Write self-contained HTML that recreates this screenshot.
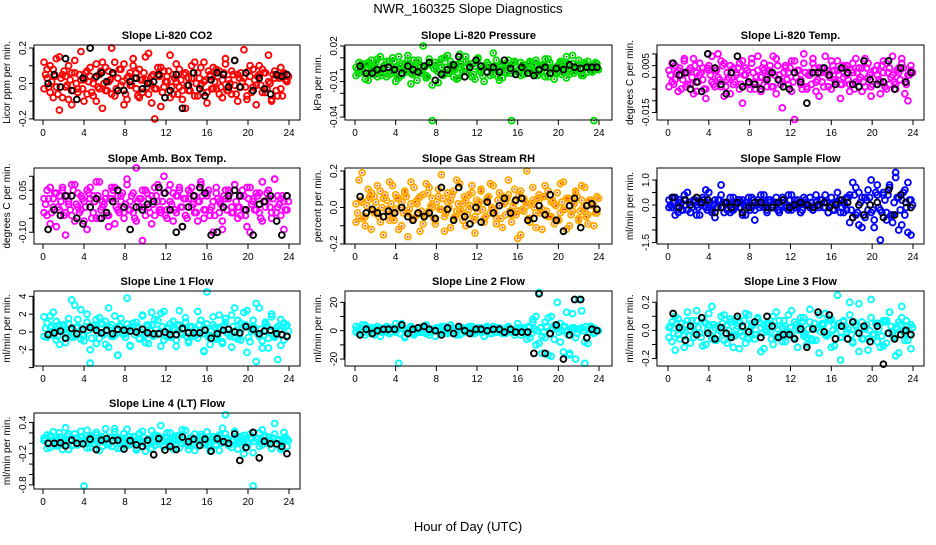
<!DOCTYPE html>
<html><head><meta charset="utf-8"><style>
html,body{margin:0;padding:0;background:#fff;}
svg text{font-family:"Liberation Sans",Arial,sans-serif;fill:#000;}
</style></head><body>
<svg id="chart" width="936" height="540" viewBox="0 0 936 540">
<text x="468" y="13" font-size="13" text-anchor="middle">NWR_160325  Slope Diagnostics</text>
<text x="468" y="531" font-size="13" text-anchor="middle">Hour of Day (UTC)</text>
</svg>
<script>
const hoursColor=[0.1,0.4,0.7,1.0,1.3,1.6,1.9,2.2,2.5,2.8,3.1,3.4,3.7,4.0,4.3,4.6,4.9,5.2,5.5,5.8,6.1,6.4,6.7,7.0,7.3,7.6,7.9,8.2,8.5,8.8,9.1,9.4,9.7,10.0,10.3,10.6,10.9,11.2,11.5,11.8,12.1,12.4,12.7,13.0,13.3,13.6,13.9,14.2,14.5,14.8,15.1,15.4,15.7,16.0,16.3,16.6,16.9,17.2,17.5,17.8,18.1,18.4,18.7,19.0,19.3,19.6,19.9,20.2,20.5,20.8,21.1,21.4,21.7,22.0,22.3,22.6,22.9,23.2,23.5,23.8];
const hoursColor2=[0.25,0.55,0.85,1.15,1.45,1.75,2.05,2.35,2.65,2.95,3.25,3.55,3.85,4.15,4.45,4.75,5.05,5.35,5.65,5.95,6.25,6.55,6.85,7.15,7.45,7.75,8.05,8.35,8.65,8.95,9.25,9.55,9.85,10.15,10.45,10.75,11.05,11.35,11.65,11.95,12.25,12.55,12.85,13.15,13.45,13.75,14.05,14.35,14.65,14.95,15.25,15.55,15.85,16.15,16.45,16.75,17.05,17.35,17.65,17.95,18.25,18.55,18.85,19.15,19.45,19.75,20.05,20.35,20.65,20.95,21.25,21.55,21.85,22.15,22.45,22.75,23.05,23.35,23.65,23.95];
const hoursBlack=[0.5,1.1,1.7,2.2,2.8,3.3,3.9,4.6,5.2,5.7,6.2,6.8,7.3,7.9,8.5,9.1,9.7,10.2,10.8,11.3,11.9,12.4,13.0,13.6,14.2,14.7,15.3,15.8,16.4,17.0,17.6,18.1,18.7,19.2,19.8,20.5,21.1,21.6,22.2,22.8,23.3,23.8];
const xTicks=[0,4,8,12,16,20,24];

const co2A=[12,3,-5,8,-2,15,-8,4,10,-12,6,-3,18,2,-6,9,0,-10,5,12,-4,7,20,-7,3,-1,11,-9,6,14,-3,8,-5,2,17,-11,-20,5,9,-2,4,16,-6,1,8,-4,-14,3,10,-7,6,-1,12,-5,4,9,-3,7,-8,11,2,-6,13,5,-2,19,-9,4,8,-1,10,-5,6,16,-10,3,-7,9,5,2];
const co2B=[-3,8,10,-8,14,-15,5,-2,-9,6,13,-5,2,-10,7,4,-7,11,-3,-14,9,1,-6,12,-4,8,-12,3,-1,10,6,-8,2,15,-6,4,-3,9,-13,7,1,-8,5,11,-2,-9,6,-4,3,12,-7,9,1,-11,5,-3,8,-6,2,14,-4,7,-1,-10,6,3,-7,10,-2,-12,5,8,-5,1,-9,7,4,-3,6,1];
const co2C=[5,-2,1,4,-6,3,7,-1,2,-4,0,5,-3,6,1,-5,3,-2,7,0,-4,2,5,-3,8,1,-6,4,-1,3,-7,2,6,-2,0,5,-3,4,-5,1,7,-2,3,-6,2,5,-1,-4,6,0,3,-5,2,7,-3,1,4,-2,6,-4,0,5,-6,3,1,-2,7,-5,2,4,-1,6,-3,0,5,-4,3,-7,2,4];
const co2Black=[0,5,-2,14,-4,-9,3,20,4,6,1,6,-4,-4,1,3,-3,0,1,5,-8,-4,5,-14,-1,6,-3,-7,2,6,5,-2,13,-2,6,-4,3,-3,-6,5,4,5];

const presA=[2,-3,5,-8,6,1,-4,9,-2,3,-6,7,0,-10,11,-5,4,8,-12,2,6,-3,20,-7,5,-13,3,-2,9,-4,12,0,-6,4,13,-1,7,-3,5,-8,10,-2,3,6,-5,14,1,-9,4,-2,8,-43,3,-1,6,-4,2,7,-3,5,-1,4,-6,9,1,-8,3,6,-2,11,-4,5,0,8,-3,4,7,-1,2,5];
const presB=[-5,6,-1,4,-9,8,3,-6,11,-2,7,-4,10,2,-7,5,-1,12,-3,8,-9,4,1,-5,9,-43,6,-11,2,10,-3,7,1,-8,5,-2,11,4,-6,3,9,-1,-10,6,2,-4,8,0,-7,5,3,-3,7,-1,-5,4,1,6,-2,8,-4,3,9,-6,2,0,-3,7,5,-7,3,12,-1,4,-5,6,-2,3,-43,1];
const presC=[0,3,-2,5,-4,1,6,-1,-5,4,2,-3,7,-6,3,0,-2,5,-4,1,8,-3,2,-6,4,1,-1,6,-5,2,-3,4,0,-7,5,1,-2,3,-4,6,0,-5,2,4,-1,3,-6,5,1,-3,2,6,-4,0,3,-2,5,-1,4,-5,1,3,-3,6,0,-2,4,-4,2,5,-1,-3,3,1,-5,4,2,-2,6,0];
const presBlack=[3,-3,-3,0,1,2,0,-3,3,0,-2,3,6,-9,-4,0,4,11,-6,2,8,3,-2,2,-2,8,1,-4,2,-3,-5,0,2,-3,1,0,4,2,1,2,2,2];

const tempA=[3,-2,5,-6,1,8,-3,4,-7,2,6,-1,-5,3,9,-4,0,7,-8,2,5,-3,1,6,-11,4,-2,8,-5,3,0,6,-4,2,9,-7,1,-2,5,-3,7,-18,3,-1,6,-4,2,8,-6,4,-2,9,1,-5,3,7,-3,0,5,-6,2,8,-1,4,-4,6,-8,3,1,-2,7,-5,4,9,-3,2,6,-7,1,5];
const tempB=[-4,6,-1,3,-5,7,2,-3,8,-6,1,4,-9,5,-2,3,10,-4,6,-1,-7,4,2,-5,7,1,-3,6,-2,9,-6,3,0,5,-4,8,-1,-13,4,2,-6,7,3,-3,10,-5,1,6,-2,-8,4,2,-4,7,-1,3,-9,5,1,-3,6,-2,4,-6,8,0,-4,3,5,-7,2,6,-3,1,-5,4,8,-2,-10,3];
const tempC=[1,-3,2,4,-1,-4,3,0,5,-2,2,-5,4,1,-3,3,-1,5,-4,0,2,-2,4,-3,1,3,-5,2,0,-2,4,-1,3,-4,1,5,-3,2,-1,4,-2,0,3,-5,2,1,-3,4,-1,2,-4,3,0,5,-2,1,-3,4,-1,3,-5,2,0,-2,4,1,-3,3,-1,5,-4,2,0,-2,3,-1,4,-3,1,2];
const tempBlack=[6,1,2,-5,-2,-6,10,4,-3,-7,2,9,-4,-2,-3,-5,-1,2,-1,-4,-5,2,-2,-11,2,2,4,1,-3,4,2,-3,-4,7,-1,-3,-2,7,-5,4,-2,2];

const ambA=[2,-4,6,-1,-8,3,5,-3,0,7,-6,4,-2,1,-9,6,3,-5,8,-1,2,-4,6,-7,3,1,-3,9,-2,4,-6,2,-13,5,-1,3,-4,7,-2,10,-5,1,4,-3,6,-8,2,5,-1,3,-6,7,-2,4,-4,1,6,-3,-9,2,5,-1,7,-5,3,-2,6,-10,1,4,-3,8,-1,2,-5,9,3,-4,1,-2];
const ambB=[-3,5,-7,2,4,-2,6,-11,1,-4,7,-1,3,-6,5,2,-3,8,-5,1,4,-8,2,6,-2,3,-5,7,1,-3,13,-1,5,-4,2,-7,6,1,-3,4,-2,7,-6,3,5,-1,-4,2,6,-3,1,8,-5,3,-2,-10,4,1,-6,5,2,-3,7,-1,-4,3,-8,6,2,-2,4,-6,1,5,-3,9,-1,2,-9,3];
const ambC=[0,2,-3,4,-1,1,-4,3,-2,5,0,-3,2,-1,4,-5,1,3,-2,0,-4,2,5,-1,-3,4,0,-2,3,-5,1,2,-1,4,-3,0,3,-2,1,-4,5,0,-2,3,-1,2,-5,4,0,-3,1,3,-2,5,-1,-4,2,0,3,-2,4,-3,1,-1,5,-4,2,0,-2,3,-5,1,4,-1,2,-3,0,3,-2,1];
const ambBlack=[-9,-2,-4,3,3,-5,-7,-1,2,-5,-3,1,5,-1,-9,-1,-2,0,1,6,4,-2,-10,-8,-1,3,6,4,-11,-10,-1,3,5,3,-2,-11,0,1,3,-6,-11,3];

const rhA=[-8,15,3,-5,10,-12,6,-2,9,-15,4,-7,12,-1,5,-10,8,-3,14,-6,2,-13,7,-4,11,0,-9,6,18,-5,3,-11,9,-2,13,-7,4,-1,8,-14,2,10,-6,5,-3,12,-9,1,6,-4,15,-8,3,-17,9,-2,20,-6,4,-11,7,-1,12,-5,3,-9,8,-3,14,-12,5,-2,9,-7,4,11,-4,2,-10,6];
const rhB=[2,-6,19,-10,4,8,-3,12,-8,5,-1,14,-5,7,-12,3,9,-16,2,11,-4,6,-9,13,-2,5,-7,10,-1,-13,8,4,-6,15,-3,2,-10,7,12,-5,-2,9,-8,4,13,-1,-6,8,-11,3,7,-4,10,-2,-15,5,1,-8,11,-3,4,-12,6,9,-5,2,-7,13,-1,5,-10,3,8,-6,12,-2,-9,4,1,-3];
const rhC=[-3,4,-6,1,6,-2,3,-5,0,7,-4,2,-7,5,0,-3,6,-1,-6,3,5,-2,-4,8,1,-6,3,-1,5,-3,0,7,-5,2,-2,6,-4,1,-7,4,3,-1,-5,6,0,-3,4,-6,2,5,-2,1,-4,7,-1,3,-6,2,0,5,-3,6,-2,-5,4,1,-7,3,-1,5,-4,2,6,-2,0,-5,4,1,-3,5];
const rhBlack=[6,-3,-1,-3,-5,-2,-3,0,-5,-7,-3,-5,-3,-6,11,-1,-7,11,-5,-9,0,-8,3,-3,1,5,-3,4,5,-7,-6,1,-4,7,-7,-13,1,5,-11,1,2,-1];

const sfA=[2,-1,3,-3,1,4,-2,0,2,-4,1,3,-1,5,-2,-5,2,8,-3,1,3,-2,0,2,-4,1,3,-1,-6,2,0,4,-2,1,-1,3,-3,2,0,-2,4,-1,2,-3,1,0,3,-2,1,-1,2,4,-3,0,-2,1,2,-3,3,-7,9,-4,5,-9,3,-2,10,-6,4,-14,5,-3,8,-7,13,-10,2,-4,9,-12];
const sfB=[-1,3,-4,1,-2,2,5,-3,1,0,-4,2,6,-1,-3,2,-1,4,1,-2,-3,3,1,-1,2,-4,0,3,-2,1,4,-1,-3,2,0,1,-2,3,-1,4,-2,2,0,-3,3,1,-1,-2,4,0,2,-1,-3,3,-2,5,-3,1,-2,4,-5,7,-8,3,-5,6,-3,-9,8,-2,4,-6,7,-4,11,3,-8,6,-11,2];
const sfC=[0,1,-1,2,-2,0,1,-1,2,-1,0,2,-2,1,0,-1,2,-1,1,0,-2,1,2,-1,0,1,-2,2,0,-1,1,0,2,-1,1,-2,0,1,-1,2,0,-1,1,-2,2,0,1,-1,0,2,-1,1,0,-2,1,2,-1,0,3,-2,4,-3,1,-4,2,3,-2,5,-1,-3,2,4,-4,1,3,-2,5,-1,2,0];
const sfBlack=[3,-1,2,0,3,1,2,-3,-1,1,-1,1,-3,-1,1,1,-1,-1,1,2,-1,0,1,0,-1,0,1,-1,0,2,1,-5,0,-4,0,1,-5,6,-4,4,1,-1];

const l1A=[17,-6,5,22,-9,8,3,-12,15,36,-4,6,25,-10,11,-20,4,14,-7,9,-14,27,-5,18,-26,6,-3,38,-15,10,5,-8,19,-12,7,22,-4,13,-16,23,-6,9,4,-9,24,-3,11,-12,6,-5,23,2,-21,45,-14,8,-6,19,-11,15,3,-17,27,-8,10,22,-23,5,13,-33,27,-10,9,-18,20,-6,-31,14,-9,8];
const l1B=[-5,10,18,-3,12,-14,7,-1,9,-6,30,14,-8,-4,20,-35,7,-13,16,-2,12,-17,8,-4,-26,15,-1,9,-16,6,11,-7,18,-3,-13,8,14,-2,21,-9,5,-4,12,-16,8,-2,16,-10,6,3,-7,13,-22,9,-4,17,-8,5,-13,11,-2,19,-6,13,-9,7,24,-11,4,32,-5,-18,11,-7,17,-3,6,-15,10,-4];
const l1C=[4,-2,7,1,-5,3,8,-3,2,-6,5,0,-4,6,2,-7,4,-1,9,-3,1,5,-5,3,7,-2,-6,4,1,-3,6,0,-4,8,2,-5,3,-1,6,-3,4,-6,2,7,-1,3,-5,5,0,-3,8,-2,4,-6,1,5,-4,3,7,-1,-5,6,2,-3,4,8,-6,1,5,-2,3,-4,7,0,-5,4,2,-3,6,1];
const l1Black=[-3,-1,1,-7,4,-2,3,5,2,-1,2,-2,3,2,1,0,3,-1,-2,-2,0,-3,-3,4,-1,-1,-1,2,-7,-2,2,3,0,-1,6,3,-2,1,2,-2,-3,-5];

const l2A=[3,-2,1,4,-1,2,-3,0,2,-1,3,-2,1,5,-23,2,-4,1,3,-2,0,2,-1,4,-3,1,0,2,-1,3,-2,1,0,-3,2,1,-1,3,-2,0,2,-1,1,3,-2,0,2,-1,1,-2,3,0,-1,2,-3,1,-6,2,8,-10,27,-16,-5,9,-18,4,20,-8,3,13,-16,12,-20,1,14,-23,-9,3,-1,0];
const l2B=[-1,2,4,-3,1,-2,2,3,-4,1,0,-2,2,-1,3,5,-5,0,2,-3,1,-1,3,-2,0,1,-4,2,3,-1,0,4,-2,1,-3,2,0,-1,3,-2,1,2,-4,0,1,3,-1,2,-2,0,1,-1,-3,5,0,2,-1,-5,6,10,-9,-4,6,-17,10,-6,2,5,-15,-1,-17,2,-5,22,2,-8,1,3,-2,0];
const l2C=[1,0,-1,2,0,-2,1,1,-1,0,2,-1,0,1,-2,1,0,2,-1,1,-1,0,2,0,-1,1,2,-2,0,1,-1,2,0,1,-2,0,1,2,-1,0,1,-1,2,0,-2,1,0,1,-1,2,0,-1,1,0,2,-1,3,-2,1,0,2,-1,3,-2,1,2,-1,0,3,-3,1,2,-2,1,0,3,-1,2,1,0];
const l2Black=[-3,1,-2,0,1,1,1,4,-2,1,2,3,1,0,-3,2,-2,3,0,-2,1,1,0,1,1,-1,1,-1,-1,-1,-16,26,-16,-2,4,-20,-3,22,22,-5,1,0];

const l3A=[2,-8,10,-3,5,-12,7,0,-5,14,-2,9,-10,4,17,-7,3,-1,11,-9,6,-4,8,-13,2,12,-6,5,-3,9,-15,4,-1,7,-10,13,-4,2,-8,11,-2,6,-12,3,9,-5,15,-7,1,-16,4,12,-3,8,-11,3,-21,6,-1,11,-8,4,19,-6,2,-14,9,-3,5,-12,7,-9,13,-2,-18,6,17,-7,3,-13];
const l3B=[-5,6,-14,8,1,-4,13,-9,3,7,-2,-11,5,12,-6,2,-3,10,-7,4,8,-12,1,6,-4,-9,11,3,-6,8,2,-13,5,-1,10,-5,7,-8,3,-1,14,-6,2,9,-4,-10,6,1,-7,11,5,-3,8,-12,4,25,-5,7,-2,20,-9,3,-15,6,1,-6,22,-3,-8,5,-11,7,13,-4,2,-16,9,-2,-7,4];
const l3C=[3,-2,5,-6,1,4,-4,7,-1,2,-5,6,0,-3,4,-7,2,5,-2,0,6,-4,3,-1,7,-5,1,4,-3,6,-2,0,5,-6,3,1,-4,7,-2,2,-5,4,0,6,-3,1,-6,5,2,-1,4,-4,7,0,-2,5,-5,3,1,-3,6,-1,2,-6,4,0,-3,5,1,-4,6,-2,3,-5,1,4,-1,7,-3,2];
const l3Black=[12,2,-7,3,-3,9,-2,-6,2,-2,-5,10,3,-1,6,-5,10,3,-5,-3,-3,-6,1,-12,1,13,-1,11,-6,3,-6,6,-2,3,-8,3,-24,-2,-6,-3,0,-3];

const l4A=[10,-10,15,5,-5,20,0,30,-12,8,18,-3,12,-82,25,-8,6,16,-14,9,28,2,-6,22,11,-10,5,27,-2,13,-9,19,3,-15,8,24,-4,14,34,-7,10,20,-11,6,15,-1,25,-12,3,18,-6,12,-3,22,-15,9,-4,16,29,55,7,-8,20,1,13,-20,4,18,-82,9,-6,26,3,12,-10,38,5,-9,21,8];
const l4B=[5,16,-8,22,3,12,-12,6,18,-5,10,-2,23,6,-9,14,-1,21,8,-6,15,-3,11,28,-10,5,19,-4,13,2,-13,9,23,-2,6,-10,16,4,11,-6,20,-3,8,14,-9,26,2,-5,12,-14,9,17,-1,7,-8,13,-2,-14,10,18,-4,6,23,-11,2,15,-7,11,-18,9,20,-3,14,3,-10,18,6,-12,8,-6];
const l4C=[8,2,12,-2,6,10,1,14,4,-3,9,5,12,0,7,11,-1,6,13,3,-2,9,6,12,1,4,10,-3,7,13,2,5,11,0,8,3,12,-1,6,10,4,-2,9,13,1,6,3,11,-1,8,5,12,2,-3,9,6,13,0,4,10,-2,7,12,3,5,9,-1,11,4,8,2,13,0,6,10,-2,7,3,12,5];
const l4Black=[0,0,1,-5,6,0,-1,8,-12,6,9,5,6,-11,5,-3,-6,6,-22,9,-13,-6,-12,12,3,8,-4,8,-15,9,3,0,18,-33,-8,21,-28,4,-1,-1,-6,-20];

const panelTitles=["Slope Li-820 CO2","Slope Li-820 Pressure","Slope Li-820 Temp.","Slope Amb. Box Temp.","Slope Gas Stream RH","Slope Sample Flow","Slope Line 1 Flow","Slope Line 2 Flow","Slope Line 3 Flow","Slope Line 4 (LT) Flow"];
const panelYTitles=["Licor ppm per min.","kPa per min.","degrees C per min.","degrees C per min.","percent per min.","ml/min per min.","ml/min per min.","ml/min per min.","ml/min per min.","ml/min per min."];
const panelUnits=[0.01,0.001,0.001,0.01,0.01,0.1,0.1,1,0.01,0.01];
const yTickValues=[[-0.2,-0.1,0,0.1,0.2],[-0.04,-0.03,-0.02,-0.01,0,0.01,0.02],[-0.015,-0.01,-0.005,0,0.005,0.01],[-0.1,-0.05,0,0.05,0.1],[-0.2,-0.1,0,0.1,0.2],[-1.5,-1,-0.5,0,0.5,1],[-4,-2,0,2,4],[-20,-10,0,10,20],[-0.2,-0.1,0,0.1,0.2],[-0.8,-0.6,-0.4,-0.2,0,0.2,0.4]];
const yTickLabels=[["-0.2","","0.0","","0.2"],["-0.04","","","-0.01","","","0.02"],["-0.015","","","","0.005",""],["-0.10","","","0.05",""],["-0.2","","0.0","","0.2"],["-1.5","","","0.0","","1.0"],["","-2","0","2","4"],["-20","","0","","20"],["-0.2","","0.0","","0.2"],["-0.8","","","-0.2","","","0.4"]];

const colorA=[co2A,presA,tempA,ambA,rhA,sfA,l1A,l2A,l3A,l4A];
const colorB=[co2B,presB,tempB,ambB,rhB,sfB,l1B,l2B,l3B,l4B];
const colorC=[co2C,presC,tempC,ambC,rhC,sfC,l1C,l2C,l3C,l4C];
const blackVals=[co2Black,presBlack,tempBlack,ambBlack,rhBlack,sfBlack,l1Black,l2Black,l3Black,l4Black];

// layout (not data)
const cols=[{l:34,r:300,x0:43,x24:289},{l:345,r:612,x0:355,x24:599},{l:657,r:924,x0:668,x24:913}];
const rows=[{t:45,b:120},{t:168,b:244},{t:291,b:366},{t:413,b:489}];
const ylims=[[-0.206,0.217],[-0.0425,0.0208],[-0.0182,0.0138],[-0.142,0.1296],[-0.2,0.2165],[-1.56,1.48],[-3.82,4.6],[-24.9,28],[-0.253,0.28],[-0.879,0.583]];
const styles=[{c:"#ff0000",dot:null},{c:"#00dd00",dot:"#005500"},{c:"#ff00ff",dot:null},{c:"#ff00ff",dot:null},{c:"#ffaa00",dot:"#ff2200"},{c:"#0000ff",dot:null},{c:"#00ffff",dot:null},{c:"#00ffff",dot:null},{c:"#00ffff",dot:null},{c:"#00ffff",dot:null}];

const NS="http://www.w3.org/2000/svg";
const svg=document.getElementById('chart');
function mk(tag,attrs,parent){const e=document.createElementNS(NS,tag);for(const k in attrs)e.setAttribute(k,attrs[k]);parent.appendChild(e);return e;}

for(let p=0;p<10;p++){
  const col=cols[p%3], row=rows[Math.floor(p/3)];
  const g=mk('g',{},svg);
  
  
  const [ymin,ymax]=ylims[p];
  const xs=h=>col.x0+(h/24)*(col.x24-col.x0);
  const ys=v=>row.b-(v-ymin)/(ymax-ymin)*(row.b-row.t);
  const t=mk('text',{x:(col.l+col.r)/2,y:row.t-6,'font-size':11,'font-weight':'bold','text-anchor':'middle'},g);
  t.textContent=panelTitles[p];
  
  
  const yt=mk('text',{transform:`translate(${col.l-24},${(row.t+row.b)/2}) rotate(-90)`,'font-size':10,'text-anchor':'middle'},g);
  yt.textContent=panelYTitles[p];
  
  
  const st=styles[p], u=panelUnits[p];
  const pts=mk('g',{},g);
  
  
  [[colorA[p],hoursColor],[colorB[p],hoursColor],[colorC[p],hoursColor2]].forEach(([arr,hrs])=>{
    const n=Math.min(arr.length,hrs.length);
    for(let i=0;i<n;i++){
      const cx=xs(hrs[i]), cy=ys(arr[i]*u);
      const c=mk('circle',{cx:cx,cy:cy,r:2.9,fill:'none',stroke:st.c,'stroke-width':1.9},pts);
      
      
      if(st.dot){mk('circle',{cx:cx,cy:cy,r:0.9,fill:st.dot},pts);}
    }
  });
  const bl=blackVals[p]; const nb=Math.min(bl.length,hoursBlack.length);
  for(let i=0;i<nb;i++){
    const c=mk('circle',{cx:xs(hoursBlack[i]),cy:ys(bl[i]*u),r:2.9,fill:'none',stroke:'#000','stroke-width':1.9},pts);
    
    
  }
  const box=mk('rect',{x:col.l,y:row.t,width:col.r-col.l,height:row.b-row.t,fill:'none',stroke:'#000','stroke-width':1},g);
  
  
  xTicks.forEach(h=>{
    mk('line',{x1:xs(h),x2:xs(h),y1:row.b,y2:row.b+5,stroke:'#000'},g);
    const tl=mk('text',{x:xs(h),y:row.b+16,'font-size':10,'text-anchor':'middle'},g);
    tl.textContent=h;
    
    
  });
  const yv=yTickValues[p], yl=yTickLabels[p];
  mk('line',{x1:col.l-1,x2:col.l-1,y1:ys(yv[0]),y2:ys(yv[yv.length-1]),stroke:'#000'},g);
  yv.forEach((v,i)=>{
    mk('line',{x1:col.l-5,x2:col.l,y1:ys(v),y2:ys(v),stroke:'#000'},g);
    if(yl[i]){
      const tl=mk('text',{transform:`translate(${col.l-8},${ys(v)}) rotate(-90)`,'font-size':10,'text-anchor':'middle'},g);
      tl.textContent=yl[i];
      
      
    }
  });
}
</script>
</body></html>
